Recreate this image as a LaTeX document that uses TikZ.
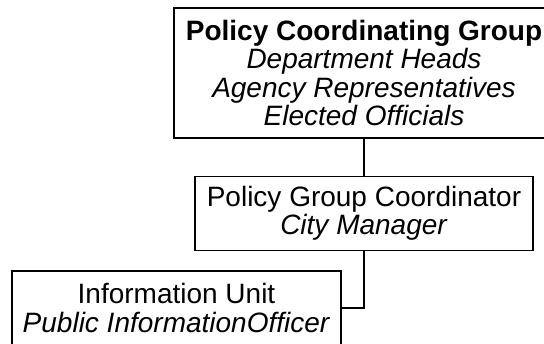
\documentclass[tikz,border=0pt]{standalone}
\usepackage{fontspec}
\setmainfont{Liberation Sans}

\begin{document}
\begin{tikzpicture}[x=0.5pt,y=-0.5pt,
    every node/.style={rectangle,draw,align=center,inner sep=0pt,
      font=\fontsize{14}{14.25}\selectfont}]
    \clip (0,0) rectangle (544,343);

    \node[line width=1pt,minimum width=190pt,minimum height=65pt] (PCG) at (364,73)
      {\textbf{Policy Coordinating Group}\\ \textit{Department Heads}\\
       \textit{Agency Representatives}\\ \textit{Elected Officials}};
    \node[line width=0.6pt,minimum width=169pt,minimum height=37pt] (PGC) at (364,213.5)
      {Policy Group Coordinator\\ \textit{City Manager}};
    \node[line width=0.6pt,minimum width=164.5pt,minimum height=37pt] (IU) at (176.5,308)
      {Information Unit\\ \textit{Public InformationOfficer}};

    \path[-] (PCG) edge[draw=black,line width=0.6pt] (PGC);
    \draw[line width=0.6pt] (PGC.south) |- (IU.east);
  \end{tikzpicture}
\end{document}
